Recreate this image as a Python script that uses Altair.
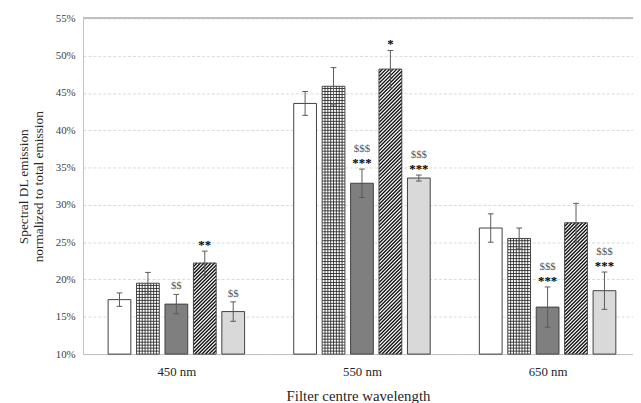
import altair as alt
import pandas as pd

# ---------------- data ----------------
groups = ["450 nm", "550 nm", "650 nm"]
series = ["S1", "S2", "S3", "S4", "S5"]

val_450 = [17.3, 19.5, 16.7, 22.2, 15.7]
err_450 = [0.9, 1.45, 1.3, 1.6, 1.3]
val_550 = [43.6, 45.9, 32.9, 48.2, 33.6]
err_550 = [1.6, 2.5, 1.9, 2.5, 0.4]
val_650 = [26.9, 25.5, 16.3, 27.6, 18.5]
err_650 = [1.9, 1.4, 2.7, 2.6, 2.5]

dollar_450 = ["", "", "$$", "", "$$"]
dollar_550 = ["", "", "$$$", "", "$$$"]
dollar_650 = ["", "", "$$$", "", "$$$"]
star_450 = ["", "", "", "**", ""]
star_550 = ["", "", "***", "*", "***"]
star_650 = ["", "", "***", "", "***"]

y_ticks = [10, 15, 20, 25, 30, 35, 40, 45, 50, 55]
y_title = ["Spectral DL emission", "normalized to total emission"]
x_title = "Filter centre wavelength"

# ---------------- style / layout ----------------
fills = ["#ffffff", "#ffffff", "#7f7f7f", "#ffffff", "#d9d9d9"]
patterns = ["none", "grid", "none", "diag", "none"]

PLOT_W, PLOT_H = 557, 340
Y_MIN, Y_MAX = 10, 55
SLOT_PX = 28.8                 # pixel distance between neighbouring bars
X_MAX = PLOT_W / SLOT_PX
PY = PLOT_H / (Y_MAX - Y_MIN)  # pixels per percent
GROUP0 = 94.5 / SLOT_PX        # first group centre (slots)
GROUP_STEP = 188 / SLOT_PX
BAR_W = 0.8
CAP = 0.1

vals = [val_450, val_550, val_650]
errs = [err_450, err_550, err_650]
dollars = [dollar_450, dollar_550, dollar_650]
stars = [star_450, star_550, star_650]

rows = []
for g, gname in enumerate(groups):
    for b, s in enumerate(series):
        xc = GROUP0 + g * GROUP_STEP + (b - 2)
        v, e = vals[g][b], errs[g][b]
        rows.append(dict(group=gname, series=s, value=v, err=e,
                         lo=v - e, hi=v + e, xc=xc,
                         x0=xc - BAR_W / 2, x1=xc + BAR_W / 2,
                         c0=xc - CAP, c1=xc + CAP,
                         fill=fills[b], pattern=patterns[b],
                         dollar=dollars[g][b], star=stars[g][b],
                         base=Y_MIN))
df = pd.DataFrame(rows)

# pattern strokes derived from the bars
grid_rows, diag_rows = [], []
for r in rows:
    if r["pattern"] == "grid":
        k = 1
        while Y_MIN + k * 0.4 < r["value"] - 0.05:
            yv = Y_MIN + k * 0.4
            grid_rows.append(dict(x0=r["x0"], x1=r["x1"], value=yv, base=yv))
            k += 1
        for j in range(1, 8):
            xv = r["x0"] + j * BAR_W / 8
            grid_rows.append(dict(x0=xv, x1=xv, value=Y_MIN, base=r["value"]))
    elif r["pattern"] == "diag":
        w = BAR_W * SLOT_PX
        h = (r["value"] - Y_MIN) * PY
        d = 3.6
        c = -h
        while c < w:
            us, ue = max(0.0, c), min(w, h + c)
            if ue > us:
                diag_rows.append(dict(x0=r["x0"] + us / SLOT_PX,
                                      x1=r["x0"] + ue / SLOT_PX,
                                      value=Y_MIN + (us - c) / PY,
                                      base=Y_MIN + (ue - c) / PY))
            c += d
grid_df = pd.DataFrame(grid_rows)
diag_df = pd.DataFrame(diag_rows)

SERIF = "Liberation Serif"
xscale = alt.Scale(domain=[0, X_MAX], nice=False, zero=False)
yscale = alt.Scale(domain=[Y_MIN, Y_MAX], nice=False, zero=False)

label_expr = " : ".join(
    f"datum.value < {GROUP0 + (i + 0.5) * GROUP_STEP:.3f} ? '{gname}'"
    for i, gname in enumerate(groups[:-1])) + f" : '{groups[-1]}'"

x_axis = alt.Axis(values=[GROUP0 + i * GROUP_STEP for i in range(len(groups))],
                  labelExpr=label_expr, grid=False, ticks=False,
                  domainColor="#bfbfbf", labelFont=SERIF, labelFontSize=13,
                  labelColor="#262626", labelPadding=12, labelFlush=False,
                  title=x_title, titleFont=SERIF, titleFontSize=15,
                  titleFontWeight="normal", titleColor="#262626", titlePadding=10)
y_axis = alt.Axis(values=y_ticks, labelExpr="datum.value + '%'", grid=True,
                  gridColor="#d9d9d9", gridDash=[3, 2], ticks=False,
                  domainColor="#bfbfbf", labelFont=SERIF, labelFontSize=11,
                  labelColor="#404040", labelPadding=8,
                  title=y_title, titleFont=SERIF, titleFontSize=13.5,
                  titleFontWeight="normal", titleColor="#262626",
                  titlePadding=10, titleLineHeight=15)

X = lambda f: alt.X(f, scale=xscale, axis=x_axis)
Y = lambda f: alt.Y(f, scale=yscale, axis=y_axis)

bars = alt.Chart(df).mark_bar(strokeWidth=0).encode(
    x=X("x0:Q"), x2="x1:Q", y=Y("value:Q"), y2="base:Q",
    fill=alt.Fill("fill:N", scale=None),
)

grid_lines = alt.Chart(grid_df).mark_rule(color="#1a1a1a", strokeWidth=0.8).encode(
    x=X("x0:Q"), x2="x1:Q", y=Y("value:Q"), y2="base:Q")

diag_lines = alt.Chart(diag_df).mark_rule(color="#111111", strokeWidth=1.4).encode(
    x=X("x0:Q"), x2="x1:Q", y=Y("value:Q"), y2="base:Q")

outlines = alt.Chart(df).mark_bar(fillOpacity=0, stroke="#404040", strokeWidth=1).encode(
    x=X("x0:Q"), x2="x1:Q", y=Y("value:Q"), y2="base:Q")

err_v = alt.Chart(df).mark_rule(color="#595959", strokeWidth=1).encode(
    x=X("xc:Q"), y=Y("lo:Q"), y2="hi:Q")
cap_hi = alt.Chart(df).mark_rule(color="#595959", strokeWidth=1).encode(
    x=X("c0:Q"), x2="c1:Q", y=Y("hi:Q"))
cap_lo = alt.Chart(df).mark_rule(color="#595959", strokeWidth=1).encode(
    x=X("c0:Q"), x2="c1:Q", y=Y("lo:Q"))

star_txt = alt.Chart(df).transform_filter("datum.star != ''").mark_text(
    font=SERIF, fontSize=13, fontWeight="bold", color="#000000",
    baseline="alphabetic", dy=-2).encode(
    x=X("xc:Q"), y=Y("hi:Q"), text="star:N")
dollar_alone = alt.Chart(df).transform_filter(
    "datum.dollar != '' && datum.star == ''").mark_text(
    font=SERIF, fontSize=11, color="#595959", baseline="alphabetic", dy=-5).encode(
    x=X("xc:Q"), y=Y("hi:Q"), text="dollar:N")
dollar_stack = alt.Chart(df).transform_filter(
    "datum.dollar != '' && datum.star != ''").mark_text(
    font=SERIF, fontSize=11, color="#595959", baseline="alphabetic", dy=-17).encode(
    x=X("xc:Q"), y=Y("hi:Q"), text="dollar:N")

top_line = alt.Chart(df).mark_rule(color="#bfbfbf", strokeWidth=1.3).encode(
    y=alt.datum(Y_MAX, scale=yscale, axis=y_axis))

chart = alt.layer(bars, grid_lines, diag_lines, outlines, err_v, cap_hi, cap_lo,
                  star_txt, dollar_alone, dollar_stack, top_line).properties(
    width=PLOT_W, height=PLOT_H,
    autosize=alt.AutoSizeParams(type="none"),
    padding={"left": 76, "top": 8, "right": 0, "bottom": 47},
    background="#ffffff",
).configure_view(strokeWidth=0)

chart.save("out.html", embed_options={"renderer": "svg", "actions": False})
